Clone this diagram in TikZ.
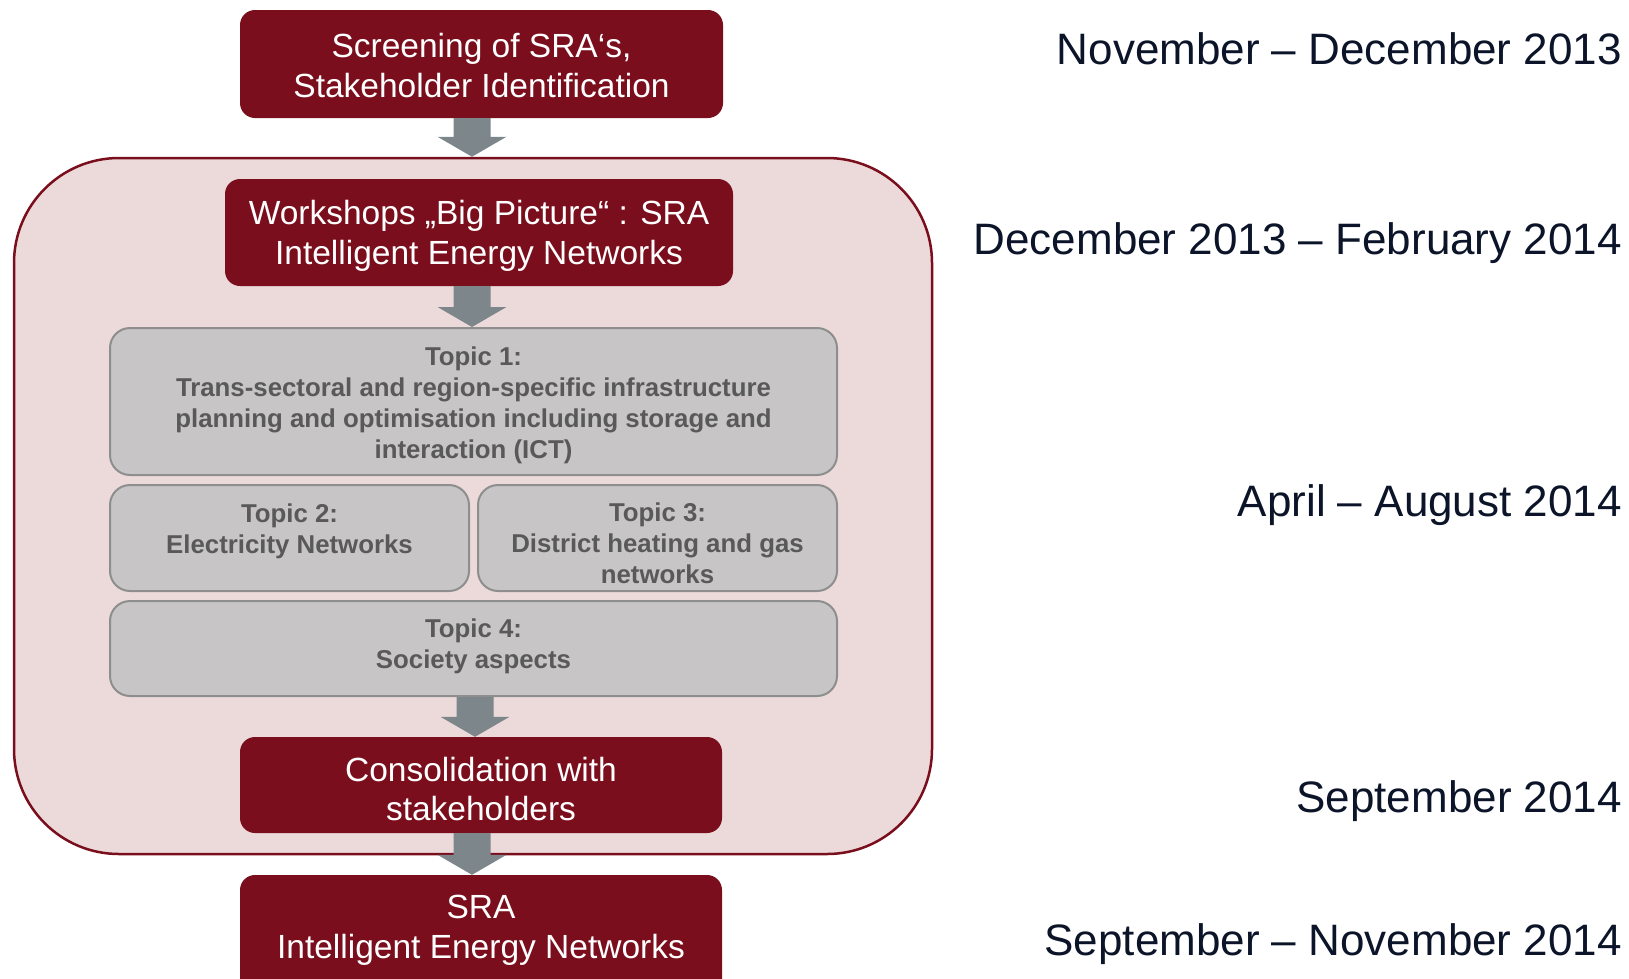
\documentclass[tikz,border=0pt]{standalone}
\usepackage{fontspec}
\setmainfont{Liberation Sans}
\usetikzlibrary{calc}
\definecolor{maroon}{HTML}{7A0E1C}
\definecolor{pinkbg}{HTML}{ECDADB}
\definecolor{topicfill}{HTML}{C7C5C5}
\definecolor{topicline}{HTML}{8E8E8E}
\definecolor{topictext}{HTML}{595959}
\definecolor{arrowgray}{HTML}{7D878B}
\definecolor{datetext}{HTML}{0B1428}
\newcommand{\blockarr}[3]{%
  \fill[arrowgray] let \p1=(#1.south), \p2=(#2.north) in
    (#3pt-18.5pt,\y1) -- (#3pt+18.5pt,\y1) -- (#3pt+18.5pt,\y2+20pt) --
    (#3pt+34.5pt,\y2+20pt) -- (#3pt,\y2) -- (#3pt-34.5pt,\y2+20pt) --
    (#3pt-18.5pt,\y2+20pt) -- cycle;}
\begin{document}
\begin{tikzpicture}[x=1pt,y=-1pt,
  phasebox/.style={draw=maroon,fill=pinkbg,line width=2.5pt,rounded corners=105pt,inner sep=0pt},
  redbox/.style={fill=maroon,rounded corners=15pt,inner sep=0pt},
  redtxt/.style={text=white,align=center,font=\fontsize{33.5}{39.5}\selectfont,inner sep=0pt},
  topicbox/.style={draw=topicline,fill=topicfill,line width=2pt,rounded corners=20pt,inner sep=0pt},
  topictxt/.style={text=topictext,align=center,font=\fontsize{25.8}{31}\selectfont\bfseries,inner sep=0pt},
  datetxt/.style={text=datetext,anchor=base east,font=\fontsize{44}{50}\selectfont,inner sep=0pt}]
\useasboundingbox (0,0) rectangle (1629,978);
\clip (0,0) rectangle (1629,978);
% phase container
\node[phasebox,minimum width=918pt,minimum height=696pt] (phase) at (473,506) {};
% red boxes
\node[redbox,minimum width=483pt,minimum height=108pt] (screen) at (481.5,64) {};
\node[redtxt] (screentext) at (481.5,65.5) {Screening of SRA‘s,\\Stakeholder Identification};
\node[redbox,minimum width=508pt,minimum height=107pt] (ws) at (479,232.5) {};
\node[redtxt] (wstext) at (479,236) {Workshops „Big Picture“ : SRA\\Intelligent Energy Networks};
\node[redbox,minimum width=482pt,minimum height=96pt] (cons) at (481,785) {};
\node[redtxt] (constext) at (481,789) {Consolidation with\\stakeholders};
\node[redbox,minimum width=482pt,minimum height=140pt] (sra) at (481,945) {};
\node[redtxt] (sratext) at (481,930.5) {SRA\\Intelligent Energy Networks};
% topics
\node[topicbox,minimum width=727pt,minimum height=147pt] (t1) at (473.5,401.5) {};
\node[topictxt] (t1text) at (473.5,405)
  {Topic 1:\\Trans-sectoral and region-specific infrastructure\\planning and optimisation including storage and\\interaction (ICT)};
\node[topicbox,minimum width=359pt,minimum height=106pt] (t2) at (289.5,538) {};
\node[topictxt] (t2text) at (289.5,531.5) {Topic 2:\\Electricity Networks};
\node[topicbox,minimum width=359pt,minimum height=106pt] (t3) at (657.5,538) {};
\node[topictxt] (t3text) at (657.5,543) {Topic 3:\\District heating and gas\\networks};
\node[topicbox,minimum width=727pt,minimum height=95pt] (t4) at (473.5,648.5) {};
\node[topictxt] (t4text) at (473.5,646) {Topic 4:\\Society aspects};
% dates
\node[datetxt] (d1) at (1622,64) {November – December 2013};
\node[datetxt] (d2) at (1622,254) {December 2013 – February 2014};
\node[datetxt] (d3) at (1622,516) {April – August 2014};
\node[datetxt] (d4) at (1622,812) {September 2014};
\node[datetxt] (d5) at (1622,955) {September – November 2014};
% arrows
\blockarr{screen}{phase}{472}
\blockarr{ws}{t1}{472}
\blockarr{t4}{cons}{475}
\blockarr{cons}{sra}{472}
\end{tikzpicture}
\end{document}
